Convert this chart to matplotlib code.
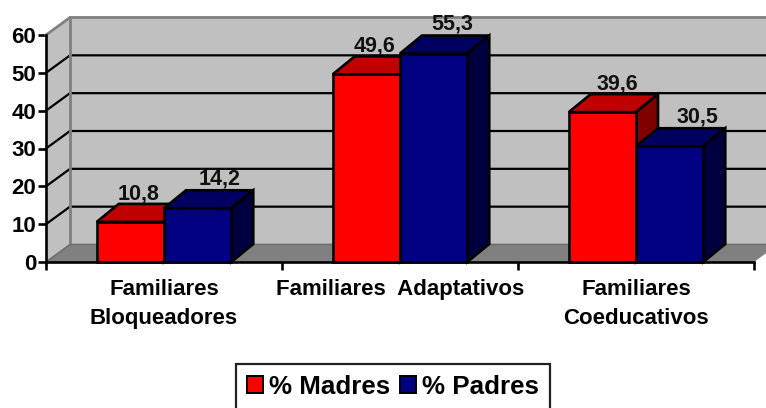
import matplotlib
matplotlib.use('Agg')
import matplotlib.pyplot as plt
from matplotlib.patches import Polygon, Patch

categories = ['Familiares\nBloqueadores', 'Familiares  Adaptativos', 'Familiares\nCoeducativos']
madres = [10.6, 49.6, 39.6]
padres = [14.2, 55.1, 30.6]
madres_labels = ['10,8', '49,6', '39,6']
padres_labels = ['14,2', '55,3', '30,5']
yticks = [0, 10, 20, 30, 40, 50, 60]

W, H = 766, 408
# front plane of the fake 3d box, in pixels
LEFT, RIGHT, BOTTOM, TOP = 46, 754, 262, 35
WALL_DX, WALL_DY = 24 / 236, 17.5 / 3.783
BAR_DX, BAR_DY = 22 / 236, 18 / 3.783
BAR_W = 0.285

plt.rcParams['font.family'] = ['Liberation Sans', 'DejaVu Sans']
plt.rcParams['font.weight'] = 'bold'

fig = plt.figure(figsize=(W / 100, H / 100), dpi=100)
ax = fig.add_axes([LEFT / W, 1 - BOTTOM / H, (RIGHT - LEFT) / W, (BOTTOM - TOP) / H])
ax.set_xlim(0, 3)
ax.set_ylim(0, 60)
ax.patch.set_visible(False)


def poly(points, color, edge='none', lw=0, z=1):
    ax.add_patch(Polygon(points, closed=True, facecolor=color, edgecolor=edge,
                         linewidth=lw, clip_on=False, zorder=z, joinstyle='miter'))


# walls and floor
poly([(WALL_DX, WALL_DY), (3 + WALL_DX, WALL_DY), (3 + WALL_DX, 60 + WALL_DY), (WALL_DX, 60 + WALL_DY)], '#C0C0C0')
poly([(0, 0), (WALL_DX, WALL_DY), (WALL_DX, 60 + WALL_DY), (0, 60)], '#C0C0C0')
poly([(0, 0), (3, 0), (3 + WALL_DX, WALL_DY), (WALL_DX, WALL_DY)], '#808080')

for v in yticks[1:-1]:
    ax.plot([0, WALL_DX, 3 + WALL_DX], [v, v + WALL_DY, v + WALL_DY], color='black', lw=1.6,
            clip_on=False, zorder=2, solid_joinstyle='miter')
ax.plot([0, WALL_DX, 3 + WALL_DX], [60, 60 + WALL_DY, 60 + WALL_DY], color='#808080', lw=2,
        clip_on=False, zorder=2)
ax.plot([WALL_DX, WALL_DX], [WALL_DY, 60 + WALL_DY], color='#808080', lw=2, clip_on=False, zorder=2)
ax.plot([0, WALL_DX, 3 + WALL_DX], [0, WALL_DY, WALL_DY], color='#6E6E6E', lw=1.2, clip_on=False, zorder=2)


def draw_bars(xs, values, front, top, side, z):
    for x, v in zip(xs, values):
        l, r = x - BAR_W / 2, x + BAR_W / 2
        poly([(l, v), (r, v), (r + BAR_DX, v + BAR_DY), (l + BAR_DX, v + BAR_DY)], top, 'black', 1.9, z)
        poly([(r, 0), (r + BAR_DX, BAR_DY), (r + BAR_DX, v + BAR_DY), (r, v)], side, 'black', 1.9, z)
        ax.bar(x, v, BAR_W, color=front, edgecolor='black', linewidth=1.9, zorder=z, clip_on=False)


centers = [i + 0.5 for i in range(len(categories))]
xs_m = [c - BAR_W / 2 for c in centers]
xs_p = [c + BAR_W / 2 for c in centers]
draw_bars(xs_m, madres, '#FF0000', '#C00000', '#800000', 3)
draw_bars(xs_p, padres, '#000080', '#000060', '#000040', 4)

# label offsets from the bar centre, in px
m_off = [8, 8, 15]
p_off = [22, 19, 28]
for x, v, s, o in zip(xs_m, madres, madres_labels, m_off):
    ax.annotate(s, (x, v), xytext=(o * 0.72, 28 * 0.72), textcoords='offset points', ha='center',
                va='center', fontsize=15.5, fontweight='bold', color='#111111', zorder=6, annotation_clip=False)
for x, v, s, o in zip(xs_p, padres, padres_labels, p_off):
    ax.annotate(s, (x, v), xytext=(o * 0.72, 29.5 * 0.72), textcoords='offset points', ha='center',
                va='center', fontsize=15.5, fontweight='bold', color='#111111', zorder=6, annotation_clip=False)

# axes, ticks
for name in ['top', 'right']:
    ax.spines[name].set_visible(False)
for name in ['left', 'bottom']:
    ax.spines[name].set_linewidth(1.9)
    ax.spines[name].set_zorder(5)
ax.set_yticks(yticks)
ax.set_yticklabels([str(v) for v in yticks], fontsize=16, fontweight='bold')
ax.tick_params(axis='y', length=6, width=1.9, pad=1)
ax.set_xticks([0, 1, 2, 3])
ax.set_xticklabels([])
ax.tick_params(axis='x', length=6, width=1.9)
ax.set_xticks(centers, minor=True)
ax.set_xticklabels(categories, minor=True, fontsize=16, fontweight='bold', linespacing=1.55)
ax.tick_params(axis='x', which='minor', length=0, pad=12)

handles = [Patch(facecolor='#FF0000', edgecolor='black', linewidth=1.4, label='% Madres'),
           Patch(facecolor='#000080', edgecolor='black', linewidth=1.4, label='% Padres')]
leg = fig.legend(handles=handles, ncol=2, loc='upper left', bbox_to_anchor=(236 / W, 1 - 364 / H),
                 frameon=True, fancybox=False, framealpha=1, edgecolor='#222222',
                 prop={'size': 18.7, 'weight': 'bold'}, borderaxespad=0, borderpad=0.42,
                 handlelength=0.62, handleheight=0.62, handletextpad=0.22, columnspacing=0.4)
leg.get_frame().set_linewidth(1.6)

fig.savefig('out.png', dpi=100)
plt.close(fig)
